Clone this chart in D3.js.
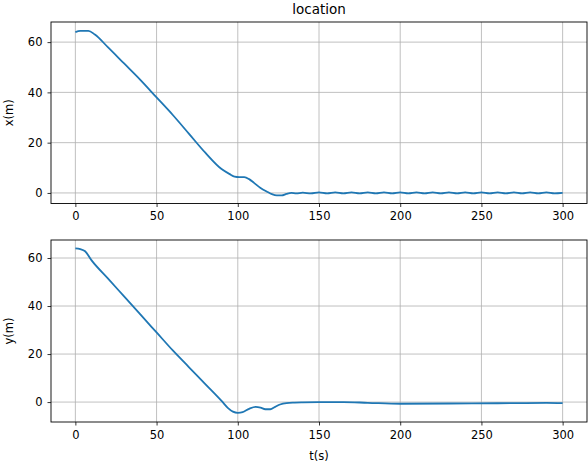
<!DOCTYPE html><html><head><meta charset="utf-8"><script src="https://cdn.jsdelivr.net/npm/d3@7"></script>
<style>body{margin:0;background:#fff}text{font-family:"DejaVu Sans";}</style></head><body><svg id="c" width="588" height="466"></svg>
<script>
const xT=[0,3,8,12,20,30,40,50,60,70,80,90,95,98,101,104,107,110,114,118,121,124,127,130,133,136,140,145,150,155,160,165,170,175,180,185,190,195,200,205,210,215,220,225,230,235,240,245,250,255,260,265,270,275,280,285,290,295,300];
const xV=[64,64.5,64.5,63,58,51.5,45,38,31,23.5,16,9.5,7.5,6.5,6.3,6.3,5.5,4,2,0.5,-0.5,-1,-1,-0.4,0,-0.2,0.1,-0.2,0.2,-0.2,0.2,-0.2,0.2,-0.2,0.2,-0.2,0.2,-0.2,0.2,-0.2,0.2,-0.2,0.2,-0.2,0.2,-0.2,0.2,-0.2,0.2,-0.2,0.2,-0.2,0.2,-0.2,0.2,-0.2,0.2,-0.2,0];
const yT=[0,3,6,10,20,30,40,50,60,70,80,90,94,97,100,103,107,111,114,117,120,123,126,130,135,140,150,165,180,200,230,260,290,300];
const yV=[64,63.7,62.8,59,51.5,44,36.5,29,21.5,14.5,7.5,0.5,-2.5,-4,-4.5,-4.2,-2.8,-2,-2.3,-3,-3,-2,-1,-0.4,-0.2,-0.1,0,0,-0.3,-0.7,-0.6,-0.5,-0.3,-0.4];
const xTicks=[0,50,100,150,200,250,300];
const yTicks=[0,20,40,60];
const svg=d3.select("#c");
const x=d3.scaleLinear().domain([-15,315]).range([51,587]);
function panel(top,bot,dom,T,V,lab){
 const y=d3.scaleLinear().domain(dom).range([bot,top]);
 const g=svg.append("g");
 g.selectAll(".gx").data(xTicks).join("line").attr("x1",d=>x(d)).attr("x2",d=>x(d)).attr("y1",top).attr("y2",bot).attr("stroke","#b0b0b0").attr("stroke-width",0.8);
 g.selectAll(".gy").data(yTicks).join("line").attr("y1",d=>y(d)).attr("y2",d=>y(d)).attr("x1",51).attr("x2",587).attr("stroke","#b0b0b0").attr("stroke-width",0.8);
 g.append("path").datum(T.map((t,i)=>[t,V[i]])).attr("d",d3.line().x(d=>x(d[0])).y(d=>y(d[1])).curve(d3.curveMonotoneX)).attr("fill","none").attr("stroke","#1f77b4").attr("stroke-width",1.8);
 const ax=g.append("g").attr("transform",`translate(0,${bot})`).call(d3.axisBottom(x).tickValues(xTicks).tickSize(3.5).tickPadding(5));
 const ay=g.append("g").attr("transform",`translate(51,0)`).call(d3.axisLeft(y).tickValues(yTicks).tickSize(3.5).tickPadding(5));
 [ax,ay].forEach(a=>{a.select(".domain").remove();a.selectAll("text").attr("font-size",11.5).attr("fill","#000").attr("font-family","DejaVu Sans");a.selectAll("line").attr("stroke","#000").attr("stroke-width",0.8);});
 g.append("rect").attr("x",51).attr("y",top).attr("width",536).attr("height",bot-top).attr("fill","none").attr("stroke","#000").attr("stroke-width",0.9);
 g.append("text").attr("transform",`translate(13,${(top+bot)/2}) rotate(-90)`).attr("text-anchor","middle").attr("font-size",11.5).text(lab);
}
panel(22,203.5,[-4.2,68],xT,xV,"x(m)");
panel(240,422,[-8.3,67.5],yT,yV,"y(m)");
svg.append("text").attr("x",319).attr("y",14).attr("text-anchor","middle").attr("font-size",13.5).text("location");
svg.append("text").attr("x",319).attr("y",460).attr("text-anchor","middle").attr("font-size",11.5).text("t(s)");
</script></body></html>
